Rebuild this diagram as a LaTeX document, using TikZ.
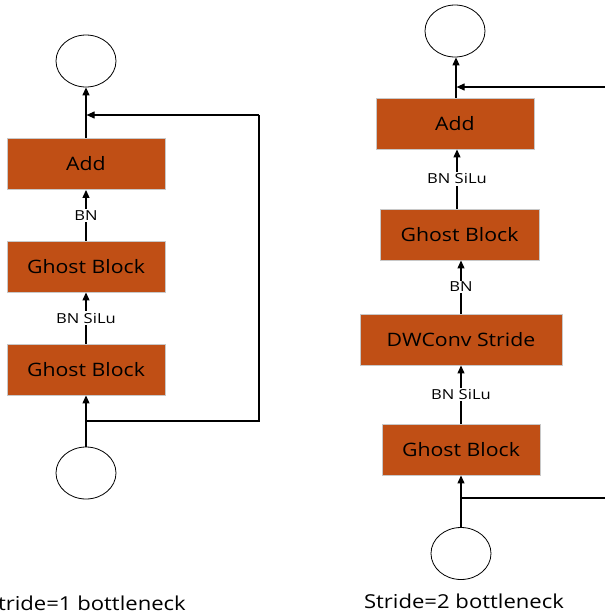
\documentclass[tikz,border=0pt]{standalone}
\usepackage{fontspec}
\setmainfont{Open Sans}[FakeStretch=1.15]
\newfontfamily\tagfont{Open Sans}[FakeStretch=1.2]
\usetikzlibrary{arrows.meta,shapes.geometric}
\definecolor{blockfill}{HTML}{C04F15}
\definecolor{blockedge}{HTML}{C8C8C8}
\tikzset{
  block/.style={rectangle, fill=blockfill, draw=blockedge, line width=0.9pt,
    minimum height=51pt, inner sep=0pt, font=\fontsize{18.5}{21}\selectfont},
  io/.style={ellipse, draw=black, line width=0.8pt, minimum width=60pt,
    minimum height=52pt, inner sep=0pt},
  flow/.style={line width=1.2pt, -{Triangle[length=8pt,width=7pt]}},
  skip/.style={line width=1.1pt},
  tag/.style={fill=white, inner sep=1.5pt, font=\tagfont\fontsize{13.8}{15}\selectfont},
  caption/.style={font=\fontsize{19.2}{22}\selectfont, inner sep=0pt}
}
\begin{document}
\begin{tikzpicture}[x=1pt, y=-1pt]
\useasboundingbox (0,0) rectangle (605,616);

% ---------- stride = 1 bottleneck ----------
\node[io] (outA) at (86,61) {};
\node[block, minimum width=158pt] (addA) at (86,164) {Add};
\node[block, minimum width=158pt] (ghostA1) at (86,266.5) {Ghost Block};
\node[block, minimum width=158pt] (ghostA2) at (86,369.5) {Ghost Block};
\node[io] (inA) at (86,473) {};
\coordinate (splitA) at (86,421);
\coordinate (mergeA) at (86,115);
\coordinate (cornerA1) at (259,421);
\coordinate (cornerA2) at (259,115);

\draw[flow] (addA.north) -- (outA.south);
\draw[flow] (ghostA1.north) -- node[tag] {BN} (addA.south);
\draw[flow] (ghostA2.north) -- node[tag] {BN SiLu} (ghostA1.south);
\draw[flow] (inA.north) -- (ghostA2.south);
\draw[skip] (splitA) -- (cornerA1) -- (cornerA2);
\draw[skip, -{Triangle[length=8pt,width=7pt]}] (cornerA2) -- ([xshift=0.6pt]mergeA);

\node[caption, anchor=east] (capA) at (186,603) {Stride=1 bottleneck};

% ---------- stride = 2 bottleneck ----------
\node[io] (outB) at (455,31) {};
\node[block, minimum width=158pt] (addB) at (455,123.5) {Add};
\node[block, minimum width=159pt] (ghostB1) at (459.5,234.5) {Ghost Block};
\node[block, minimum width=202pt] (dwB) at (461,339.5) {DWConv Stride};
\node[block, minimum width=158pt] (ghostB2) at (461,449.5) {Ghost Block};
\node[io] (inB) at (461,553.5) {};
\coordinate (splitB) at (461,498);
\coordinate (mergeB) at (456,87);
\coordinate (skipInB) at (606,87);
\coordinate (skipOutB) at (606,498);

\draw[flow] ([xshift=1pt]addB.north) -- ([xshift=1pt]addB.north |- outB.south);
\draw[flow] ([xshift=-2.5pt]ghostB1.north) -- node[tag] {BN SiLu} ([xshift=-2.5pt]ghostB1.north |- addB.south);
\draw[flow] (dwB.north) -- node[tag] {BN} (dwB.north |- ghostB1.south);
\draw[flow] (ghostB2.north) -- node[tag] {BN SiLu} (dwB.south);
\draw[flow] (inB.north) -- (ghostB2.south);
\draw[skip] (splitB) -- (skipOutB);
\draw[skip, -{Triangle[length=8pt,width=7pt]}] (skipInB) -- ([xshift=0.6pt]mergeB);

\node[caption] (capB) at (464,601) {Stride=2 bottleneck};
\end{tikzpicture}
\end{document}
